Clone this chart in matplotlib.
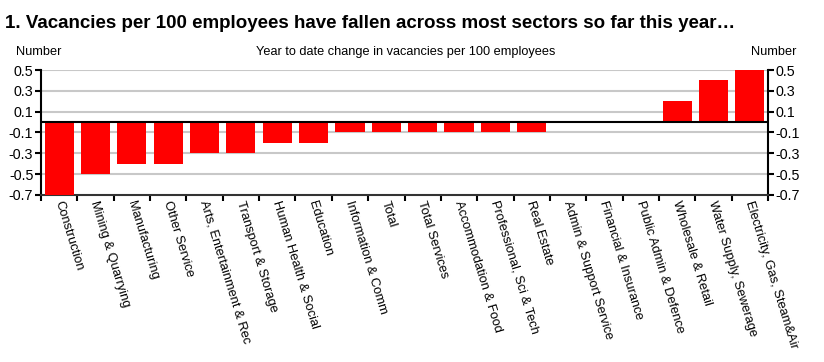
import matplotlib
matplotlib.use("Agg")
import matplotlib.pyplot as plt
import numpy as np

plt.rcParams['font.family'] = ['Liberation Sans', 'DejaVu Sans']

categories = ["Construction", "Mining & Quarrying", "Manufacturing", "Other Service",
              "Arts, Entertainment & Rec", "Transport & Storage", "Human Health & Social",
              "Education", "Information & Comm", "Total", "Total Services",
              "Accommodation & Food", "Professional, Sci & Tech", "Real Estate",
              "Admin & Support Service", "Financial & Insurance", "Public Admin & Defence",
              "Wholesale & Retail", "Water Supply, Sewerage", "Electricity, Gas, Steam&Air"]
values = [-0.7, -0.5, -0.4, -0.4, -0.3, -0.3, -0.2, -0.2, -0.1, -0.1, -0.1,
          -0.1, -0.1, -0.1, 0.0, 0.0, 0.0, 0.2, 0.4, 0.5]
yticks = [0.5, 0.3, 0.1, -0.1, -0.3, -0.5, -0.7]

fig = plt.figure(figsize=(8.24, 3.62), dpi=100)
ax = fig.add_axes([41/824, 1-195/362, (768-41)/824, (195-70)/362])

x = np.arange(len(categories))
ax.bar(x, values, width=0.8, color='#ff0000', zorder=3)
ax.set_xlim(-0.5, len(categories)-0.5)
ax.set_ylim(-0.7, 0.5)
ax.set_yticks(yticks)
ax.set_yticklabels([f"{t:.1f}" for t in yticks])
for t in yticks[:-1]:
    ax.axhline(t, color='#c8c8c8', lw=1.5, zorder=1)
ax.axhline(0, color='black', lw=1.5, zorder=4)

ax.set_xticks(np.arange(len(categories)+1) - 0.5)
ax.set_xticklabels([])
# label anchors sit slightly right of each bar's centre
ax.set_xticks(x + 0.12, minor=True)
ax.set_xticklabels(categories, minor=True, rotation=-73, ha='left', va='top',
                   rotation_mode='anchor', fontsize=9.3)
ax.tick_params(axis='x', which='minor', length=0, pad=3)
ax.tick_params(axis='x', which='major', length=4, width=1.5, color='black', direction='out')
ax.tick_params(axis='y', which='both', left=True, right=True, labelleft=True, labelright=True,
               length=4, width=1.5, direction='out', labelsize=10.3, pad=1.5)

for s in ['left', 'right']:
    ax.spines[s].set_color('black')
    ax.spines[s].set_linewidth(1.5)
ax.spines['top'].set_visible(False)
ax.spines['bottom'].set_color('#333333')
ax.spines['bottom'].set_linewidth(1.5)

fig.text(5/824, 1-23/362, "1. Vacancies per 100 employees have fallen across most sectors so far this year\u2026",
         fontsize=13.5, fontweight='bold', ha='left', va='center')
fig.text(16/824, 1-52/362, "Number", fontsize=9.2, ha='left', va='center')
fig.text(796/824, 1-52/362, "Number", fontsize=9.2, ha='right', va='center')
fig.text(406/824, 1-52/362, "Year to date change in vacancies per 100 employees",
         fontsize=9.2, ha='center', va='center')

fig.savefig("out.png", dpi=100)
